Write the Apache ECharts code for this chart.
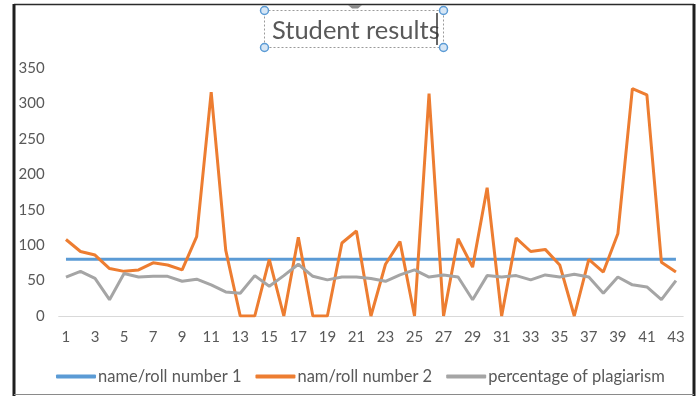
<!DOCTYPE html>
<html>
<head>
<meta charset="utf-8">
<title>Student results</title>
<script src="https://cdn.jsdelivr.net/npm/echarts@6/dist/echarts.min.js"></script>
<style>
  html, body { margin: 0; padding: 0; background: #ffffff; }
  #chart { width: 699px; height: 396px; }
</style>
</head>
<body>
<div id="chart"></div>
<script>
// Category labels (students 1..43)
const categories = [
  '1','2','3','4','5','6','7','8','9','10',
  '11','12','13','14','15','16','17','18','19','20',
  '21','22','23','24','25','26','27','28','29','30',
  '31','32','33','34','35','36','37','38','39','40',
  '41','42','43'
];

// Series values
const rollNumber1 = [
  80, 80, 80, 80, 80, 80, 80, 80, 80, 80,
  80, 80, 80, 80, 80, 80, 80, 80, 80, 80,
  80, 80, 80, 80, 80, 80, 80, 80, 80, 80,
  80, 80, 80, 80, 80, 80, 80, 80, 80, 80,
  80, 80, 80
];
const rollNumber2 = [
  108, 91, 86, 67, 63, 65, 75, 72, 65, 112,
  316, 93, 0, 0, 80, 0, 111, 0, 0, 103,
  120, 0, 73, 105, 0, 314, 0, 109, 69, 181,
  0, 110, 91, 94, 72, 0, 80, 62, 116, 321,
  312, 76, 62
];
const plagiarism = [
  55, 63, 53, 23, 60, 55, 56, 56, 49, 52,
  44, 34, 32, 57, 42, 57, 73, 56, 51, 55,
  55, 53, 49, 58, 65, 55, 58, 55, 23, 57,
  55, 57, 51, 58, 55, 59, 55, 32, 55, 44,
  41, 23, 50
];

// Series names shown in the legend
const seriesNames = ['name/roll number 1', 'nam/roll number 2', 'percentage of plagiarism'];

const FONT = 'Lato, "Liberation Sans", sans-serif';
const TEXT = '#595959';
const colors = ['#5b9bd5', '#ed7d31', '#a5a5a5'];

const chart = echarts.init(document.getElementById('chart'), null, { renderer: 'canvas' });

const handle = (x, y) => ({
  type: 'circle',
  shape: { cx: x, cy: y, r: 4 },
  style: { fill: '#d6e6f5', stroke: '#5b9bd5', lineWidth: 1.5 },
  z: 20
});

chart.setOption({
  animation: false,
  backgroundColor: '#ffffff',
  color: colors,
  title: {
    text: 'Student results',
    left: 267,
    top: 13,
    textStyle: { fontFamily: FONT, fontSize: 25.5, fontWeight: 'normal', color: TEXT }
  },
  legend: {
    left: 51,
    top: 363,
    itemWidth: 40,
    itemHeight: 4,
    itemGap: 14,
    icon: 'roundRect',
    textStyle: { fontFamily: FONT, fontSize: 16.5, color: TEXT, padding: [0, 0, 0, -3] },
    data: seriesNames
  },
  grid: { left: 58.7, right: 15.8, top: 68, bottom: 80, containLabel: false },
  xAxis: {
    type: 'category',
    data: categories,
    boundaryGap: true,
    axisLine: { lineStyle: { color: '#d9d9d9', width: 1 } },
    axisTick: { show: false },
    axisLabel: { interval: 1, color: TEXT, fontFamily: FONT, fontSize: 15, margin: 14 },
    splitLine: { show: false }
  },
  yAxis: {
    type: 'value',
    min: 0,
    max: 350,
    interval: 50,
    axisLine: { show: false },
    axisTick: { show: false },
    splitLine: { show: false },
    axisLabel: { color: TEXT, fontFamily: FONT, fontSize: 15, margin: 14 }
  },
  series: [
    { name: seriesNames[0], type: 'line', data: rollNumber1, showSymbol: false, lineStyle: { width: 3 }, z: 2 },
    { name: seriesNames[1], type: 'line', data: rollNumber2, showSymbol: false, lineStyle: { width: 3 }, z: 3 },
    { name: seriesNames[2], type: 'line', data: plagiarism, showSymbol: false, lineStyle: { width: 3 }, z: 4 }
  ],
  graphic: [
    // chart frame
    { type: 'line', shape: { x1: 14, y1: 4.5, x2: 694, y2: 4.5 }, style: { stroke: '#2b2b2b', lineWidth: 1.5 }, z: 10 },
    { type: 'line', shape: { x1: 14, y1: 4, x2: 14, y2: 396 }, style: { stroke: '#1f1f1f', lineWidth: 3 }, z: 10 },
    { type: 'line', shape: { x1: 694, y1: 4, x2: 694, y2: 396 }, style: { stroke: '#1f1f1f', lineWidth: 3 }, z: 10 },
    { type: 'line', shape: { x1: 14, y1: 394.5, x2: 694, y2: 394.5 }, style: { stroke: '#8a8a8a', lineWidth: 1 }, z: 10 },
    // title selection box
    { type: 'rect', shape: { x: 264.5, y: 10.5, width: 179, height: 37 }, style: { fill: 'none', stroke: '#9a9a9a', lineWidth: 1, lineDash: [2, 2] }, z: 15 },
    { type: 'polygon', shape: { points: [[348, 5], [362, 5], [358, 8.5], [352, 8.5]] }, style: { fill: '#8c8c8c' }, z: 16 },
    { type: 'line', shape: { x1: 437, y1: 13, x2: 437, y2: 45 }, style: { stroke: '#333333', lineWidth: 1.5 }, z: 16 },
    handle(264.5, 10.5), handle(443.5, 10.5), handle(264.5, 47.5), handle(443.5, 47.5)
  ]
});
</script>
</body>
</html>
